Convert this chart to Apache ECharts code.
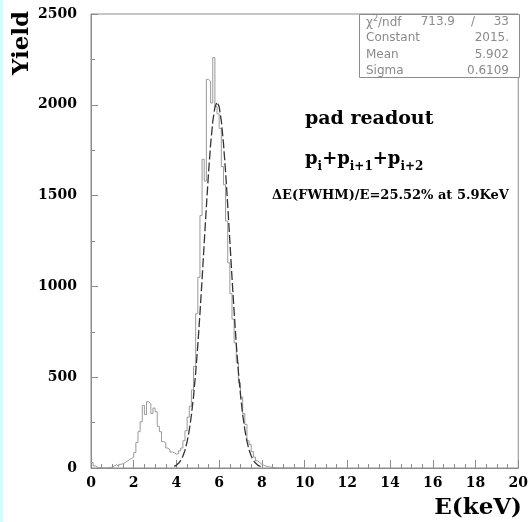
<!DOCTYPE html>
<html><head><meta charset="utf-8">
<script src="https://cdn.jsdelivr.net/npm/echarts@6/dist/echarts.min.js"></script>
<style>html,body{margin:0;padding:0;background:#fff}#c{width:531px;height:522px}</style>
</head><body><div id="c"></div>
<script>
// Histogram: bin width 0.1 keV starting at 0 keV
const binWidth = 0.1;
const binStart = 0;
const counts = [
  30, 12, 4, 2, 0, 1, 0, 2, 3, 5,
  12, 18, 8, 20, 24, 30, 38, 46, 52, 60,
  85, 140, 200, 255, 345, 295, 365, 355, 300, 330,
  310, 230, 200, 145, 140, 110, 100, 88, 84, 76,
  80, 95, 110, 150, 205, 280, 340, 430, 560, 850,
  1050, 1390, 1700, 1580, 2140, 2130, 2010, 2260, 1990, 1950,
  1870, 1660, 1560, 1360, 1130, 960, 820, 690, 580, 470,
  390, 300, 240, 150, 130, 90, 60, 40, 30, 20,
  15, 10, 8, 5, 3, 2, 1, 0, 0, 0,
  0, 0, 0, 0, 0, 0, 0, 0, 0, 0
];
// Gaussian fit curve sampled every 0.1 keV from 3.9 keV
const fitStart = 3.9;
const fitStep = 0.1;
const fitValues = [
  9, 16, 26, 42, 65, 98, 145, 208, 291, 396, 525, 677, 851, 1041, 1240, 1437,
  1623, 1783, 1908, 1987, 2015, 1989, 1912, 1789, 1630, 1446, 1248, 1049, 859,
  684, 530, 401, 295, 211, 147, 100, 66, 42, 27, 16, 10, 6
];
const statsLabels = ['Constant', 'Mean', 'Sigma'];
const statsValues = ['2015.', '5.902', '0.6109'];
const chi2 = '713.9';
const ndf = '33';
const xTitle = 'E(keV)';
const yTitle = 'Yield';

const histData = counts.map((c, i) => [+(binStart + i * binWidth).toFixed(2), c]);
histData.push([+(binStart + counts.length * binWidth).toFixed(2), counts[counts.length - 1]]);
const fitData = fitValues.map((v, i) => [+(fitStart + i * fitStep).toFixed(2), v]);

const serif = 'DejaVu Serif';
const frameColor = '#8c8c8c';
const statColor = '#8a8a8a';

const chart = echarts.init(document.getElementById('c'), null, {renderer: 'canvas'});

const statsGraphics = [
  {type: 'rect', z: 100, shape: {x: 359.5, y: 14.5, width: 160, height: 63},
   style: {fill: '#fff', stroke: frameColor, lineWidth: 1}},
  {type: 'text', z: 101, x: 366, y: 22,
   style: {text: '{a|χ}{s|2}{a|/ndf}', verticalAlign: 'middle', align: 'left',
     rich: {a: {fontFamily: 'DejaVu Sans', fontSize: 12, fill: statColor, verticalAlign: 'bottom', lineHeight: 14},
            s: {fontFamily: 'DejaVu Sans', fontSize: 8, fill: statColor, verticalAlign: 'bottom', lineHeight: 14, padding: [0, 0, 6, 0]}}}},
  {type: 'text', z: 101, x: 455, y: 22,
   style: {text: chi2, fontFamily: 'DejaVu Sans', fontSize: 12, fill: statColor, align: 'right', verticalAlign: 'middle'}},
  {type: 'text', z: 101, x: 473, y: 22,
   style: {text: '/', fontFamily: 'DejaVu Sans', fontSize: 12, fill: statColor, align: 'center', verticalAlign: 'middle'}},
  {type: 'text', z: 101, x: 509, y: 22,
   style: {text: ndf, fontFamily: 'DejaVu Sans', fontSize: 12, fill: statColor, align: 'right', verticalAlign: 'middle'}}
];
statsLabels.forEach((l, i) => {
  const y = 38 + i * 16.5;
  statsGraphics.push({type: 'text', z: 101, x: 366, y: y,
    style: {text: l, fontFamily: 'DejaVu Sans', fontSize: 12, fill: statColor, align: 'left', verticalAlign: 'middle'}});
  statsGraphics.push({type: 'text', z: 101, x: 509, y: y,
    style: {text: statsValues[i], fontFamily: 'DejaVu Sans', fontSize: 12, fill: statColor, align: 'right', verticalAlign: 'middle'}});
});

const option = {
  backgroundColor: '#fff',
  animation: false,
  grid: {left: 91, right: 11, top: 14, bottom: 54, show: true, borderColor: frameColor, borderWidth: 1, backgroundColor: 'transparent'},
  xAxis: {
    type: 'value', min: 0, max: 20, interval: 2,
    axisLine: {show: true, onZero: false, lineStyle: {color: frameColor, width: 1}},
    axisTick: {show: true, inside: true, length: 8, lineStyle: {color: frameColor}},
    minorTick: {show: true, splitNumber: 4, length: 4, lineStyle: {color: frameColor}},
    splitLine: {show: false},
    axisLabel: {margin: 8, fontFamily: serif, fontWeight: 'bold', fontSize: 14, color: '#000', formatter: v => String(v)}
  },
  yAxis: {
    type: 'value', min: 0, max: 2500, interval: 500,
    axisLine: {show: true, onZero: false, lineStyle: {color: frameColor, width: 1}},
    axisTick: {show: true, inside: true, length: 7, lineStyle: {color: frameColor}},
    minorTick: {show: true, splitNumber: 2, length: 4, lineStyle: {color: frameColor}},
    splitLine: {show: false},
    axisLabel: {margin: 14, fontFamily: serif, fontWeight: 'bold', fontSize: 14, color: '#000', formatter: v => String(v)}
  },
  series: [
    {type: 'line', data: histData, step: 'end', symbol: 'none', silent: true,
     lineStyle: {color: '#9a9a9a', width: 1}, z: 2},
    {type: 'line', data: fitData, smooth: false, symbol: 'none', silent: true,
     lineStyle: {color: '#333', width: 1.3, type: [9, 3]}, z: 3}
  ],
  graphic: [
    {type: 'rect', z: 0, shape: {x: 0, y: 0, width: 3, height: 522}, style: {fill: '#ccffff'}},
    {type: 'text', x: 22, y: 43, rotation: Math.PI / 2,
     style: {text: yTitle, fontFamily: serif, fontWeight: 'bold', fontSize: 23, fill: '#000', align: 'center', verticalAlign: 'middle'}},
    {type: 'text', x: 522, y: 508,
     style: {text: xTitle, fontFamily: serif, fontWeight: 'bold', fontSize: 23, fill: '#000', align: 'right', verticalAlign: 'middle'}},
    {type: 'text', x: 305, y: 119,
     style: {text: 'pad readout', fontFamily: serif, fontWeight: 'bold', fontSize: 19, fill: '#000', align: 'left', verticalAlign: 'middle'}},
    {type: 'text', x: 305, y: 160,
     style: {text: '{p|p}{s|i}{p|+p}{s|i+1}{p|+p}{s|i+2}', align: 'left', verticalAlign: 'middle',
       rich: {p: {fontFamily: serif, fontWeight: 'bold', fontSize: 18, fill: '#000', verticalAlign: 'bottom', lineHeight: 26, padding: [0, 0, 5, 0]},
              s: {fontFamily: serif, fontWeight: 'bold', fontSize: 12, fill: '#000', verticalAlign: 'bottom', lineHeight: 26}}}},
    {type: 'text', x: 272, y: 196,
     style: {text: 'ΔE(FWHM)/E=25.52% at 5.9KeV', fontFamily: serif, fontWeight: 'bold', fontSize: 13, fill: '#000', align: 'left', verticalAlign: 'middle'}}
  ].concat(statsGraphics)
};
chart.setOption(option);
</script>
</body></html>
